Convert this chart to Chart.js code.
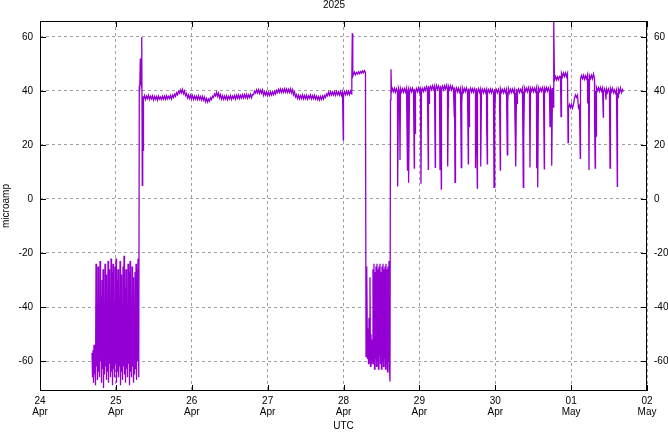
<!DOCTYPE html>
<html>
<head>
<meta charset="utf-8">
<script src="https://cdn.jsdelivr.net/npm/chart.js@4/dist/chart.umd.min.js"></script>
<style>html,body{margin:0;padding:0;background:#fff}</style>
</head>
<body>
<canvas id="chart" width="668" height="432"></canvas>
<script>
// x values are hours since 24 Apr 2025 00:00 UTC
const dayLabels = ['24', '25', '26', '27', '28', '29', '30', '01', '02'];
const monthLabels = ['Apr', 'Apr', 'Apr', 'Apr', 'Apr', 'Apr', 'Apr', 'May', 'May'];
const yTicks = [-60, -40, -20, 0, 20, 40, 60];

// negative burst on 24/25 Apr
const burst1Start = 16.45, burst1Step = 0.1582;
const burst1 = [
  -57, -66, -56, -68, -54, -65, -55, -69, -24, -62, -40, -67, -25, -64, -50, -66, -23, -60, -36, -68,
  -30, -63, -26, -70, -45, -65, -24, -62, -28, -67, -52, -64, -23, -68, -26, -61, -41, -66, -22, -64,
  -27, -69, -24, -63, -48, -66, -25, -61, -22, -68, -30, -64, -26, -66, -55, -62, -23, -69, -28, -64,
  -40, -67, -25, -62, -21, -65, -33, -68, -26, -63, -44, -66, -24, -61, -27, -69, -23, -64, -52, -66,
  -25, -62, -29, -68, -46, -65, -27, -63, -24, -67, -26, -60, -22, -57
];

// ~38 uA plateau 25-28 Apr
const plateau1Start = 32.74, plateau1Step = 0.3163;
const plateau1 = [
  37.0, 38.3, 36.8, 38.1, 37.2, 38.4, 36.9, 38.0, 37.1, 38.2,
  36.7, 38.0, 36.9, 37.9, 36.6, 38.1, 37.0, 37.8, 36.8, 38.0,
  37.0, 38.1, 36.9, 38.2, 37.1, 38.0, 37.2, 38.3, 37.0, 38.4,
  37.6, 38.8, 38.0, 39.3, 38.6, 39.8, 39.2, 40.4, 39.3, 40.6,
  39.0, 40.0, 38.3, 39.0, 37.4, 38.5, 37.2, 38.4, 37.1, 38.3,
  36.9, 38.1, 37.0, 38.0, 36.8, 38.2, 36.9, 37.9, 36.7, 38.0,
  36.6, 37.7, 36.0, 37.2, 35.9, 37.0, 36.2, 37.5, 36.8, 38.0,
  37.6, 38.9, 38.2, 39.5, 38.0, 39.2, 37.4, 38.6, 37.0, 38.2,
  36.9, 38.1, 37.0, 38.2, 36.8, 38.0, 37.1, 38.3, 36.9, 38.1,
  37.2, 38.3, 37.0, 38.4, 37.3, 38.5, 37.2, 38.4, 37.4, 38.6,
  37.4, 38.6, 37.5, 38.7, 37.3, 38.5, 37.6, 38.8, 37.5, 38.7,
  38.6, 39.9, 39.2, 40.4, 39.3, 40.5, 39.1, 40.3, 39.2, 40.4,
  38.4, 39.6, 38.5, 39.7, 38.3, 39.5, 38.4, 39.6, 38.5, 39.7,
  38.6, 39.8, 38.9, 40.2, 39.4, 40.6, 39.5, 40.7, 39.4, 40.6,
  39.5, 40.8, 39.6, 40.7, 39.4, 40.6, 39.5, 40.8, 39.3, 40.5,
  38.6, 39.6, 37.8, 38.6, 37.2, 38.4, 37.1, 38.3, 37.2, 38.5,
  37.1, 38.3, 37.2, 38.4, 37.0, 38.2, 37.3, 38.5, 37.1, 38.3,
  37.2, 38.4, 37.0, 38.1, 36.8, 37.9, 36.7, 38.0, 36.9, 38.1,
  37.0, 38.3, 37.6, 38.9, 38.2, 39.5, 38.4, 39.7, 38.5, 39.6,
  38.5, 39.7, 38.4, 39.8, 38.6, 39.7, 38.5, 39.8, 38.4, 39.6,
  38.5, 39.8, 38.6, 39.9, 38.7, 39.8, 38.6, 40.0, 38.9
];

// short ~46 uA step on 28 Apr
const level46Start = 99.16, level46Step = 0.3163;
const level46 = [46.2, 47.0, 46.0, 46.8, 46.3, 47.1, 46.4, 47.2, 46.6, 47.4, 46.7, 47.5, 46.9];

// negative burst on 28 Apr
const burst2Start = 103.27, burst2Step = 0.1582;
const burst2 = [
  -55, -25, -59, -48, -61, -44, -60, -29, -62, -50, -61, -52, -60, -26, -61, -24,
  -63, -27, -59, -25, -62, -24, -60, -26, -63, -25, -58, -24, -61, -27, -63, -25,
  -60, -24, -62, -26, -59, -25, -63, -24, -61, -26, -64, -25, -60, -23, -62, -67.6
];

// ~40 uA from 29 Apr on
const plateau2Start = 111.18, plateau2Step = 0.3163;
const plateau2 = [
  39.6, 40.9, 39.7, 41.0, 39.5, 40.8, 39.6, 41.0, 39.7, 40.9,
  39.6, 40.8, 39.5, 40.9, 39.7, 41.0, 39.6, 40.8, 39.4, 40.9,
  39.7, 41.0, 39.6, 40.8, 39.5, 40.9, 39.7, 41.1, 39.6, 40.8,
  39.5, 40.9, 39.8, 41.2, 40.2, 41.6, 40.4, 41.8, 40.5, 41.7,
  40.5, 41.9, 40.6, 41.8, 40.4, 42.0, 40.6, 41.8, 40.5, 41.9,
  40.6, 41.8, 40.4, 41.9, 40.7, 42.1, 40.5, 41.7, 40.6, 41.9,
  40.4, 41.7, 40.2, 41.4, 39.8, 41.1, 39.7, 41.0, 39.6, 40.9,
  39.7, 41.0, 39.6, 40.9, 39.8, 41.1, 39.6, 40.9, 39.7, 41.0,
  39.6, 40.8, 39.5, 40.9, 39.7, 41.0, 39.4, 40.8, 39.5, 40.7,
  39.4, 40.6, 39.3, 40.7, 39.5, 40.6, 39.3, 40.5, 39.4, 40.7,
  39.3, 40.6, 39.5, 40.7, 39.4, 40.5, 39.3, 40.6, 39.4, 40.8,
  39.5, 40.6, 39.3, 40.7, 39.4, 40.6, 39.5, 40.8, 39.3, 40.6,
  39.4, 40.7, 39.5, 40.6, 39.3, 40.8, 39.5, 40.7, 39.4, 40.6,
  39.7, 41.0, 39.8, 41.1, 39.9, 41.0, 39.7, 41.2, 39.8, 41.0,
  39.9, 41.1, 39.7, 41.0, 39.8, 41.2, 39.9, 41.1, 39.8, 41.0,
  39.9, 41.2, 39.8, 41.1, 40.0, 41.3, 39.9, 41.1, 39.8, 41.2,
  40.0, 41.1, 40.2,
  44.0, 45.3, 44.1, 45.2, 44.2, 45.4,
  45.3, 46.5, 45.2, 46.6, 45.4, 46.7, 45.3, 46.5,
  33.7, 35.0, 33.8, 35.1, 33.6, 34.9,
  37.3, 38.5, 37.6, 38.4,
  33.8, 34.6,
  44.4, 45.7, 44.5, 45.8, 44.3, 45.6, 44.5, 45.9, 44.4, 45.7, 44.6, 45.8, 44.5, 46.3, 44.7,
  40.0, 41.3, 40.1, 41.2, 39.9, 41.3, 40.0, 41.1, 39.6, 40.8,
  39.5, 40.7, 39.4, 40.8, 39.6, 40.9, 39.7, 41.0, 39.3, 40.4,
  39.2, 40.4, 39.3, 40.6, 39.5, 41.1, 39.4, 40.5, 39.8
];

// single readings: jumps and short dips/spikes
const spikeHours = [
  31.31, 31.41, 31.54, 31.73, 31.85, 31.95, 32.11, 32.26, 32.36, 32.49, 32.58,
  95.94, 98.63, 98.78, 98.94, 103.12, 110.86, 111.02,
  113.14, 113.87, 116.24, 116.59, 118.39, 118.71, 120.51, 122.82, 123.10, 125.03,
  126.52, 126.94, 128.96, 129.15, 131.05, 131.27, 133.26, 133.48, 135.48, 135.79,
  137.75, 138.32, 139.40, 141.30, 141.49, 143.61, 143.92, 145.60, 147.81, 148.03,
  150.34, 150.56, 150.88, 152.87, 153.09, 154.99, 157.11, 157.43, 159.52, 161.32,
  161.86, 162.36, 162.58, 164.80, 167.04, 170.90, 173.24, 173.65, 175.42, 175.61,
  175.87, 178.18, 179.03, 180.30, 182.61, 182.83
];
const spikeValues = [
  -66, 42, 40, 52, 42, 47, 41, 60, 5, 38, 18,
  21.8, 44, 61.4, 45.5, -58.4, 36.7, 48,
  4.6, 14.4, 10.7, 6.0, 11.4, 24.3, 5.6, 11.0, 35.4, 11.7,
  10.7, 3.7, 12, 34, 30.5, 6.2, 11.6, 35.4, 13, 26.8,
  11.4, 4.0, 12, 26, 13, 4.3, 31.7, 10.7, 16.3, 36,
  22.5, 12, 35.4, 4.3, 23.3, 11.7, 11.4, 4.3, 11.2, 26.8,
  12.3, 34, 66, 30.5, 20.9, 15, 35.4, 10.7, 28.6, 11.4,
  23.3, 30.3, 36.8, 11.4, 4.7, 37.5
];

const FONT = 'Liberation Sans';
const font = { family: FONT, size: 10, weight: 'normal' };

function stepped(start, step, values) {
  return values.map((v, i) => ({ x: start + i * step, y: v }));
}

const points = [
  ...stepped(burst1Start, burst1Step, burst1),
  ...stepped(plateau1Start, plateau1Step, plateau1),
  ...stepped(level46Start, level46Step, level46),
  ...stepped(burst2Start, burst2Step, burst2),
  ...stepped(plateau2Start, plateau2Step, plateau2),
  ...spikeHours.map((h, i) => ({ x: h, y: spikeValues[i] }))
].sort((a, b) => a.x - b.x);

// gnuplot style frame with inward ticks on all four sides
const frame = {
  id: 'frame',
  afterDraw(chart) {
    const { ctx, chartArea: a, scales } = chart;
    ctx.save();
    ctx.strokeStyle = '#000';
    ctx.lineWidth = 1;
    ctx.strokeRect(a.left + 0.5, a.top + 0.5, a.right - a.left - 1, a.bottom - a.top - 1);
    ctx.beginPath();
    scales.x.ticks.forEach(t => {
      const px = Math.round(scales.x.getPixelForValue(t.value)) + 0.5;
      ctx.moveTo(px, a.bottom); ctx.lineTo(px, a.bottom - 6);
      ctx.moveTo(px, a.top); ctx.lineTo(px, a.top + 6);
    });
    scales.y.ticks.forEach(t => {
      const py = Math.round(scales.y.getPixelForValue(t.value)) + 0.5;
      ctx.moveTo(a.left, py); ctx.lineTo(a.left + 6, py);
      ctx.moveTo(a.right, py); ctx.lineTo(a.right - 6, py);
    });
    ctx.stroke();
    ctx.restore();
  }
};

const yRange = { min: -71.1, max: 65.9 };

new Chart(document.getElementById('chart'), {
  type: 'line',
  data: {
    datasets: [{
      data: points,
      borderColor: '#9400d3',
      borderWidth: 1.3,
      pointRadius: 0,
      tension: 0,
      fill: false
    }]
  },
  options: {
    responsive: false,
    animation: false,
    devicePixelRatio: 1,
    parsing: false,
    layout: { padding: 0 },
    plugins: {
      legend: { display: false },
      tooltip: { enabled: false },
      title: {
        display: true,
        text: '2025',
        color: '#000',
        font: { family: FONT, size: 10, weight: 'normal', lineHeight: 1 },
        padding: { top: 0, bottom: 11 }
      }
    },
    scales: {
      x: {
        type: 'linear',
        min: 0,
        max: 192,
        afterBuildTicks: s => { s.ticks = dayLabels.map((d, i) => ({ value: i * 24 })); },
        afterFit: s => { s.height = 41; },
        ticks: {
          autoSkip: false,
          maxRotation: 0,
          padding: 4,
          color: '#000',
          font: { family: FONT, size: 10, lineHeight: 1.15 },
          callback: v => { const i = Math.round(v / 24); return [dayLabels[i], monthLabels[i]]; }
        },
        grid: { color: '#a0a0a0', drawTicks: false },
        border: { display: false, dash: [3, 3] },
        title: { display: true, text: 'UTC', color: '#000', font, padding: { top: -2, bottom: 0 } }
      },
      y: {
        position: 'left',
        ...yRange,
        afterBuildTicks: s => { s.ticks = yTicks.map(v => ({ value: v })); },
        afterFit: s => { s.width = 40; },
        ticks: { padding: 7, color: '#000', font },
        grid: { color: '#a0a0a0', drawTicks: false },
        border: { display: false, dash: [3, 3] },
        title: { display: true, text: 'microamp', color: '#000', font, padding: 0 }
      },
      y2: {
        position: 'right',
        ...yRange,
        afterBuildTicks: s => { s.ticks = yTicks.map(v => ({ value: v })); },
        afterFit: s => { s.width = 21; },
        ticks: { padding: 7, color: '#000', font },
        grid: { display: false, drawTicks: false },
        border: { display: false }
      }
    }
  },
  plugins: [frame]
});
</script>
</body>
</html>
